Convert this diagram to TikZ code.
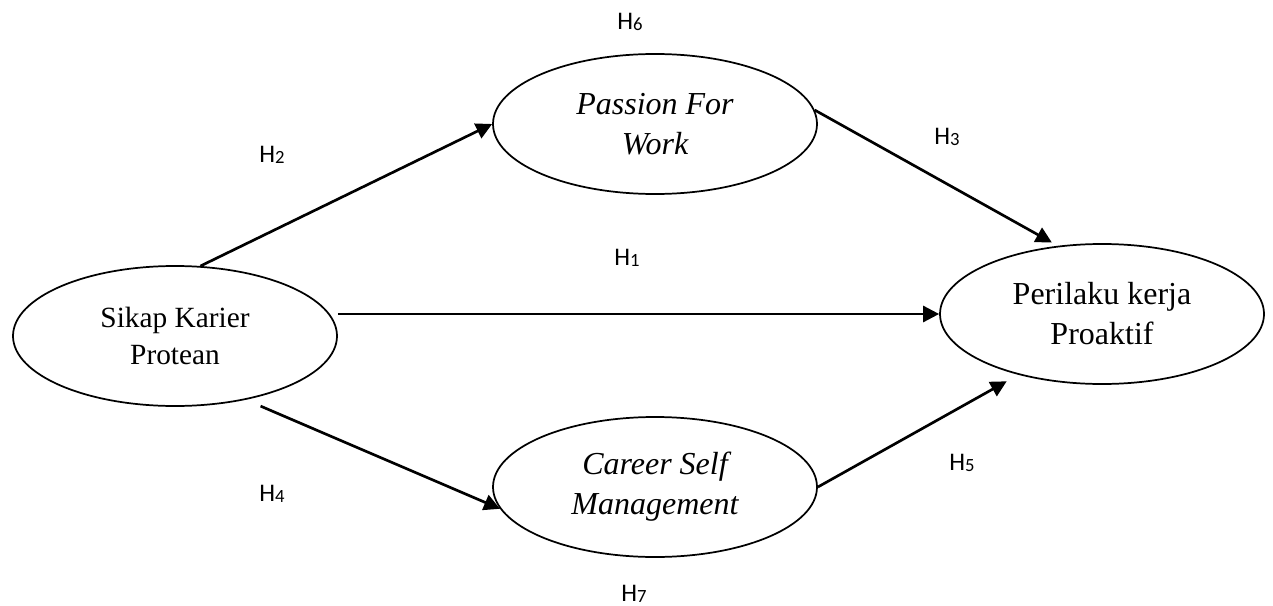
\documentclass[tikz,border=0pt]{standalone}
\usepackage{fontspec}
\setmainfont{Liberation Serif}
\newfontfamily\labfont{Carlito}
\usetikzlibrary{shapes.geometric,arrows.meta}
\newcommand{\hyp}[1]{{\labfont\fontsize{19}{19}\selectfont H\raisebox{-1.2pt}{\fontsize{14}{14}\selectfont #1}}}
\tikzset{
  construct/.style={ellipse, draw, line width=1.3pt, minimum width=243pt,
    minimum height=105pt, inner sep=0pt, align=center,
    font=\fontsize{22}{27.75}\selectfont},
  bigtext/.style={font=\fontsize{24}{30}\selectfont},
  path/.style={draw, line width=2pt,
    -{Triangle[length=12pt,width=12pt]}},
  hlabel/.style={inner sep=0pt, anchor=center}
}
\begin{document}
\begin{tikzpicture}[x=0.75pt, y=-0.75pt]
  \useasboundingbox (0,0) rectangle (1273,606);

  % constructs
  \node[construct] (sikap)    at (175,336)  {Sikap Karier\\Protean};
  \node[construct, bigtext] (passion)  at (655,124)  {\itshape Passion For\\\itshape Work};
  \node[construct, bigtext] (career)   at (655,487)  {\itshape Career Self\\\itshape Management};
  \node[construct, bigtext] (perilaku) at (1102,314) {Perilaku kerja\\Proaktif};

  % hypothesised paths
  \draw[path] (sikap.70) -- (passion.west);
  \draw[path, shorten >=5pt] (passion.5) -- (perilaku.123);
  \draw[path] (sikap.east |- perilaku.west) -- (perilaku.west);
  \draw[path, shorten <=12pt] (sikap.-42) -- (career.188);
  \draw[path, shorten >=10pt] (career.east) -- (perilaku.216);

  % hypothesis labels
  \node[hlabel] (h6) at (630,22)  {\hyp{6}};
  \node[hlabel] (h2) at (272,155) {\hyp{2}};
  \node[hlabel] (h3) at (947,137) {\hyp{3}};
  \node[hlabel] (h1) at (627,258) {\hyp{1}};
  \node[hlabel] (h4) at (272,494) {\hyp{4}};
  \node[hlabel] (h5) at (962,463) {\hyp{5}};
  \node[hlabel] (h7) at (634,594) {\hyp{7}};
\end{tikzpicture}
\end{document}
